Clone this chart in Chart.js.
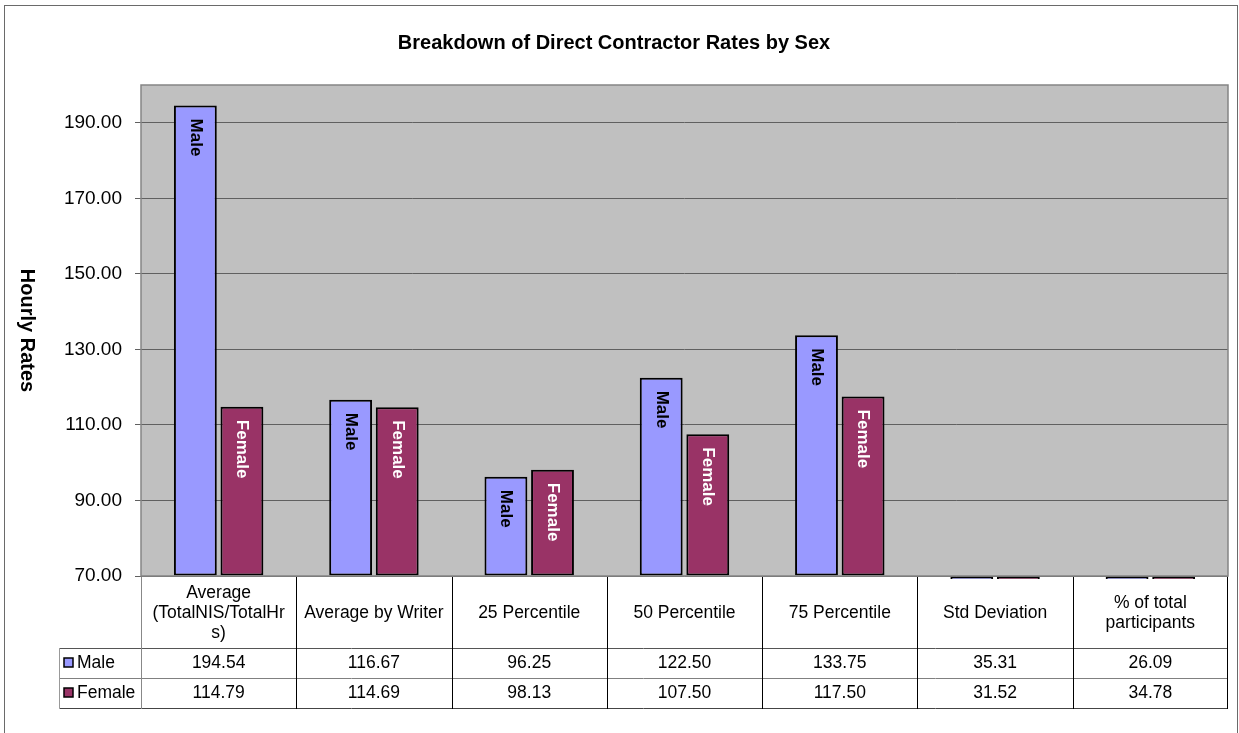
<!DOCTYPE html>
<html><head><meta charset="utf-8">
<script src="https://cdn.jsdelivr.net/npm/chart.js@4"></script>
<style>html,body{margin:0;padding:0;background:#fff}#wrap{width:1239px;height:733px;position:relative}</style>
</head><body><div id="wrap"><canvas id="c"></canvas></div>
<script>
const categories = [["Average","(TotalNIS/TotalHr","s)"],"Average by Writer","25 Percentile","50 Percentile","75 Percentile","Std Deviation",["% of total","participants"]];
const maleValues = [194.54,116.67,96.25,122.50,133.75,35.31,26.09];
const femaleValues = [114.79,114.69,98.13,107.50,117.50,31.52,34.78];
const seriesNames = ["Male","Female"];
const seriesColors = ["#9999FF","#993366"];
const labelColors = ["#000000","#FFFFFF"];
const yTickValues = [70,90,110,130,150,170,190];
const yMin = 70, yMax = 200;
const chartTitle = "Breakdown of Direct Contractor Rates by Sex";
const yAxisTitle = "Hourly Rates";

const FONT = '"Liberation Sans", Arial, sans-serif';

const decorPlugin = {
  id: 'decor',
  beforeDraw(chart) {
    const ctx = chart.ctx, a = chart.chartArea;
    ctx.save();
    ctx.fillStyle = '#C0C0C0';
    ctx.fillRect(a.left, a.top, a.right - a.left, a.bottom - a.top);
    ctx.restore();
  },
  afterDatasetsDraw(chart) {
    const ctx = chart.ctx;
    const yScale = chart.scales.y;
    ctx.save();
    ctx.font = 'bold 17px ' + FONT;
    chart.data.datasets.forEach((ds, di) => {
      const meta = chart.getDatasetMeta(di);
      meta.data.forEach((el, i) => {
        if (ds.data[i] <= yScale.min) return;
        ctx.save();
        ctx.translate(el.x, el.y + 13);
        ctx.rotate(Math.PI / 2);
        ctx.fillStyle = labelColors[di];
        ctx.textAlign = 'left';
        ctx.textBaseline = 'middle';
        ctx.fillText(ds.label, 0, 0);
        ctx.restore();
      });
    });
    ctx.restore();
  },
  afterDraw(chart) {
    const ctx = chart.ctx, a = chart.chartArea;
    const xs = chart.scales.x;
    ctx.save();
    // plot border
    ctx.strokeStyle = '#858585';
    ctx.lineWidth = 1.5;
    ctx.strokeRect(a.left, a.top, a.right - a.left, a.bottom - a.top);
    // outer border
    ctx.strokeStyle = '#6a6a6a';
    ctx.lineWidth = 1;
    ctx.strokeRect(4.5, 5.5, chart.width - 6, chart.height + 20);
    // y axis title
    ctx.save();
    ctx.translate(27, (a.top + a.bottom) / 2);
    ctx.rotate(Math.PI / 2);
    ctx.font = 'bold 20px ' + FONT;
    ctx.fillStyle = '#000';
    ctx.textAlign = 'center';
    ctx.textBaseline = 'middle';
    ctx.fillText(yAxisTitle, 0, 0);
    ctx.restore();

    // data table
    const n = categories.length;
    const colW = (a.right - a.left) / n;
    const hTop = a.bottom, hBot = a.bottom + 72, r1 = hBot + 30, r2 = r1 + 30;
    const legL = 59;
    const line = (x1, y1, x2, y2, color) => {
      ctx.beginPath(); ctx.strokeStyle = color; ctx.lineWidth = 1;
      ctx.moveTo(x1, y1); ctx.lineTo(x2, y2); ctx.stroke();
    };
    const R = Math.round(a.right) - 0.5;
    line(legL + 0.5, hBot + 0.5, R, hBot + 0.5, '#555');
    line(legL + 0.5, r1 + 0.5, R, r1 + 0.5, '#808080');
    line(legL + 0.5, r2 + 0.5, R, r2 + 0.5, '#444');
    line(legL + 0.5, hBot, legL + 0.5, r2, '#999');
    for (let i = 0; i <= n; i++) {
      const x = Math.round(a.left + i * colW) - (i === n ? 0.5 : -0.5);
      line(x, hTop + 1, x, r2 + 1, i === 0 ? '#888' : '#000');
    }
    ctx.fillStyle = '#000';
    ctx.font = '17.5px ' + FONT;
    ctx.textAlign = 'center';
    ctx.textBaseline = 'middle';
    categories.forEach((c, i) => {
      const lines = Array.isArray(c) ? c : [c];
      const cx = xs.getPixelForValue(i);
      const cy = (hTop + hBot) / 2 + 1;
      lines.forEach((ln, k) => ctx.fillText(ln, cx, cy + (k - (lines.length - 1) / 2) * 20));
    });
    const rowVals = [maleValues, femaleValues];
    rowVals.forEach((vals, ri) => {
      const cy = hBot + 15 + ri * 30;
      ctx.textAlign = 'center';
      vals.forEach((v, i) => ctx.fillText(v.toFixed(2), xs.getPixelForValue(i), cy));
      ctx.fillStyle = seriesColors[ri];
      ctx.fillRect(64, cy - 5, 9, 9);
      ctx.strokeStyle = '#000'; ctx.lineWidth = 1.5;
      ctx.strokeRect(64, cy - 5, 9, 9);
      ctx.fillStyle = '#000';
      ctx.textAlign = 'left';
      ctx.fillText(seriesNames[ri], 77, cy);
    });
    ctx.restore();
  }
};

const barClip = {left: 5, right: 5, top: 5, bottom: 3};

new Chart(document.getElementById('c'), {
  type: 'bar',
  data: {
    labels: categories,
    datasets: [
      { label: seriesNames[0], data: maleValues, backgroundColor: seriesColors[0], borderColor: '#000', borderWidth: 2, borderSkipped: false, base: yMin, clip: barClip },
      { label: seriesNames[1], data: femaleValues, backgroundColor: seriesColors[1], borderColor: '#000', borderWidth: 2, borderSkipped: false, base: yMin, clip: barClip }
    ]
  },
  options: {
    responsive: true,
    maintainAspectRatio: false,
    animation: false,
    devicePixelRatio: 1,
    layout: { padding: { left: 0, right: 11, top: 0, bottom: 157 } },
    datasets: { bar: { categoryPercentage: 0.6, barPercentage: 0.92 } },
    plugins: {
      legend: { display: false },
      tooltip: { enabled: false },
      title: {
        display: true,
        text: chartTitle,
        color: '#000',
        font: { family: FONT, size: 20, weight: 'bold', lineHeight: 1.2 },
        padding: { top: 31, bottom: 30 }
      }
    },
    scales: {
      x: { display: false },
      y: {
        min: yMin, max: yMax,
        afterBuildTicks(scale) { scale.ticks = yTickValues.map(v => ({ value: v })); },
        afterFit(scale) { scale.width = 141; },
        grid: { color: '#606060', lineWidth: 1, tickLength: 6, drawTicks: true },
        border: { display: false },
        ticks: {
          color: '#000', padding: 13,
          font: { family: FONT, size: 19 },
          callback: v => Number(v).toFixed(2)
        }
      }
    }
  },
  plugins: [decorPlugin]
});
</script>
</body></html>
